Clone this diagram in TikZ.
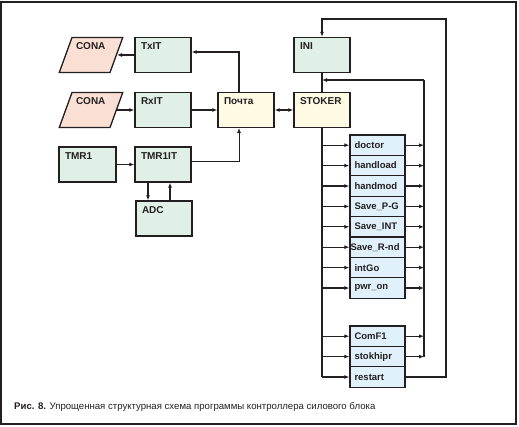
\documentclass[tikz,border=0pt]{standalone}
\usepackage{fontspec}
\setmainfont{Liberation Sans}
\usetikzlibrary{arrows.meta,positioning,shapes.geometric}

\definecolor{progfill}{RGB}{224,240,230}
\definecolor{portfill}{RGB}{250,224,212}
\definecolor{mailfill}{RGB}{255,250,228}
\definecolor{taskfill}{RGB}{224,241,251}
\definecolor{ink}{RGB}{35,31,32}

\begin{document}
\begin{tikzpicture}[
  x=1pt, y=-1pt,
  >=Latex,
  % --- shared block base ---
  blkbase/.style={
    draw=ink, line width=1.3pt, align=left, text=ink,
    font=\fontsize{10}{12}\selectfont\bfseries
  },
  % --- block types ---
  prog/.style={blkbase, fill=progfill, text width=44pt, inner xsep=6pt,
    inner ysep=4.5pt, text height=7.5pt, text depth=18.5pt},
  port/.style={blkbase, fill=portfill, trapezium, trapezium left angle=70,
    trapezium right angle=110, text width=38pt, inner xsep=0pt,
    inner ysep=4.5pt, text height=7.5pt, text depth=18.5pt},
  mail/.style={prog, fill=mailfill},
  task/.style={blkbase, fill=taskfill, minimum width=55pt, text width=46pt,
    inner xsep=4.5pt, inner ysep=0pt, minimum height=20.4pt,
    font=\fontsize{9.5}{11}\selectfont\bfseries},
  % --- arrows ---
  arr/.style={-{Latex[length=5pt, width=4pt]}, line width=1.3pt, draw=ink},
  line/.style={line width=1.3pt, draw=ink},
]
\useasboundingbox (0,0) rectangle (519,426);

% ===================== FRAME =====================

\draw[line width=1.3pt, draw=ink] (1,2) rectangle (516,424);

% ===================== BLOCKS =====================

\node[port] (cona1) at (91,55) {\hspace*{4pt}CONA};
\node[prog] (txit) at (163,55) {TxIT};

\node[port] (cona2) at (91,110) {\hspace*{4pt}CONA};
\node[prog] (rxit) at (163,110) {RxIT};
\node[mail] (pochta) at (246,110) {Почта};

\node[prog, text width=45pt] (tmr1) at (87.5,164.5) {TMR1};
\node[prog] (tmr1it) at (163,164.5) {TMR1IT};
\node[prog] (adc) at (164,218.5) {ADC};

\node[prog] (ini) at (322,55) {INI};
\node[mail] (stoker) at (322,110) {STOKER};

% task stack
\foreach \name/\txt [count=\i] in {doctor/doctor, handload/handload,
    handmod/handmod, savepg/Save\_P-G, saveint/Save\_INT,
    savernd/\hspace*{-4pt}Save\_R-nd, intgo/intGo, pwron/pwr\_on}
  \node[task] (\name) at (377.5,{135+20.4*(\i-0.5)}) {\mbox{\txt}};

\foreach \name/\txt [count=\i] in {comf/ComF1, stokhipr/stokhipr,
    restart/restart}
  \node[task] (\name) at (377.5,{326+20.4*(\i-0.5)}) {\txt};

% ===================== ARROWS =====================

\draw[arr] (txit.west) -- (cona1.east);
\draw[arr] (cona2.east) -- (rxit.west);
\draw[arr] (rxit) -- (pochta);
\draw[arr] ([xshift=-7pt]pochta.north) |- ([yshift=3pt]txit.east);
\draw[arr] (tmr1) -- (tmr1it);
\draw[-{Latex[length=5pt, width=4pt]}, line width=0.6pt, draw=ink]
  ([yshift=3pt]tmr1it.east) -| ([xshift=-7pt]pochta.south);
\draw[arr] ([xshift=-15pt]tmr1it.south) -- ([xshift=-16pt]adc.north);
\draw[arr] ([xshift=6pt]adc.north) -- ([xshift=7pt]tmr1it.south);

\draw[arr, {Latex[length=5pt, width=4pt]}-{Latex[length=5pt, width=4pt]}]
  (pochta) -- (stoker);
\draw[line] (ini) -- (stoker);

% left bus
\draw[line] (stoker.south) -- (stoker.south |- restart.west);
\foreach \name in {doctor,handload,handmod,savepg,saveint,savernd,intgo,
    pwron,comf,stokhipr,restart}
  \draw[arr] (stoker.south |- \name.west) -- (\name.west);

% right bus
\coordinate (rbus) at (424,80);
\draw[arr] (rbus) -- (rbus -| ini.south);
\draw[line] (rbus) -- (rbus |- stokhipr.east);
\foreach \name in {doctor,handload,handmod,savepg,saveint,savernd,intgo,
    pwron,comf,stokhipr}
  \draw[arr] (\name.east) -- (rbus |- \name.east);

% restart loop
\coordinate (loop) at (446,19);
\draw[arr] (restart.east) -| (loop) -| (ini.north);

% ===================== CAPTION =====================

\node[anchor=west, inner sep=0pt, text=ink, font=\fontsize{9.6}{11}\selectfont]
  (caption) at (14,407)
  {\textbf{Рис. 8.} Упрощенная структурная схема программы контроллера силового блока};

\end{tikzpicture}
\end{document}
